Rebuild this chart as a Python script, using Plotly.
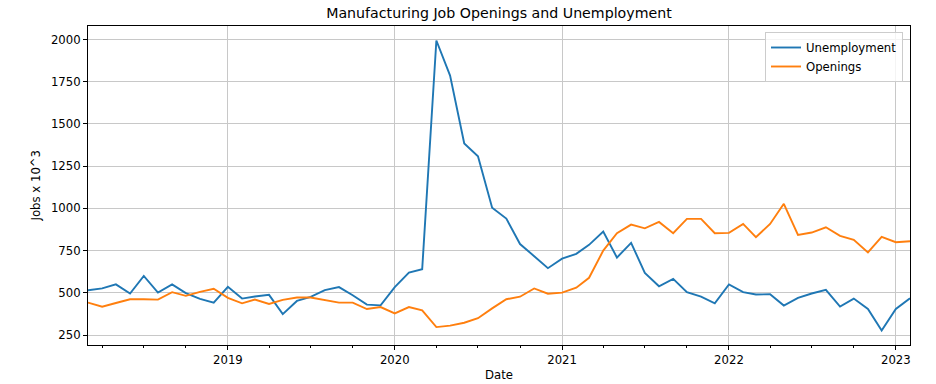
import pandas as pd
import plotly.graph_objects as go

dates = pd.date_range("2018-03-01", periods=60, freq="MS")

unemployment = [515, 526, 550, 496, 600, 502, 550, 498, 464, 442,
                536, 466, 478, 488, 374, 452, 476, 516, 534, 486, 430, 426,
                534, 620, 640, 1994, 1786, 1384, 1308, 1004, 940, 789, 717, 646,
                702, 731, 784, 863, 709, 796, 618, 539, 583, 504, 478, 438,
                550, 504, 490, 492, 425, 470, 496, 518, 419, 466, 405, 277,
                405, 468]

openings = [442, 418, 440, 462, 462, 460, 504, 482, 506, 524,
            470, 438, 460, 434, 458, 472, 472, 456, 442, 442, 404, 416,
            378, 416, 396, 297, 306, 323, 350, 408, 462, 477, 526, 495,
            501, 530, 589, 750, 853, 904, 882, 920, 853, 938, 938, 853,
            855, 908, 829, 908, 1027, 843, 857, 888, 837, 814, 739, 831,
            800, 805]

series_names = ["Unemployment", "Openings"]
colors = ["#1f77b4", "#ff7f0e"]

allv = unemployment + openings
lo, hi = min(allv), max(allv)
pad = (hi - lo) * 0.05
yrange = [lo - pad, hi + pad]

fig = go.Figure()
for name, vals, c in zip(series_names, [unemployment, openings], colors):
    fig.add_trace(go.Scatter(x=dates, y=vals, mode="lines", name=name,
                             line=dict(color=c, width=1.9)))

font = "DejaVu Sans, Liberation Sans, sans-serif"
W, H = 936, 384
L, R, T, B = 88, 26, 26, 39
fig.update_layout(
    width=W, height=H,
    margin=dict(l=L, r=R, t=T, b=B, pad=0, autoexpand=False),
    paper_bgcolor="white", plot_bgcolor="white",
    font=dict(family=font, size=11.7, color="#000000"),
    title=dict(text="Manufacturing Job Openings and Unemployment",
               x=0.5, xref="paper", xanchor="center",
               y=1 - 13.5 / H, yref="container", yanchor="middle",
               font=dict(size=14.2, family=font, color="#000000")),
    legend=dict(x=1 - 7 / (W - L - R), y=1 - 6 / (H - T - B),
                xanchor="right", yanchor="top",
                bgcolor="rgba(255,255,255,0.8)", bordercolor="#cccccc",
                borderwidth=1, font=dict(size=11.7, family=font),
                tracegroupgap=0),
    showlegend=True,
    annotations=[
        dict(text="Date", xref="paper", yref="paper", x=0.5, y=0,
             xanchor="center", yanchor="middle", yshift=-30,
             showarrow=False, font=dict(size=11.7, family=font)),
        dict(text="Jobs x 10^3", xref="paper", yref="paper", x=0, y=0.5,
             xanchor="center", yanchor="middle", xshift=-53, textangle=-90,
             showarrow=False, font=dict(size=11.7, family=font)),
    ],
)
fig.update_xaxes(
    range=[dates[0], dates[-1]], automargin=False,
    tickformat="%Y", dtick="M12", tick0="2019-01-01",
    ticks="outside", ticklen=4, tickwidth=1, tickcolor="#000000",
    tickfont=dict(size=11.7),
    showgrid=True, gridcolor="#c8c8c8", gridwidth=1,
    showline=True, linecolor="#000000", linewidth=1, mirror=True,
    zeroline=False,
    minor=dict(dtick="M3", tick0="2018-01-01", ticks="outside", ticklen=2,
               tickcolor="#000000", showgrid=False),
)
fig.update_yaxes(
    range=yrange, dtick=250, tick0=0, automargin=False,
    ticks="outside", ticklen=4, tickwidth=1, tickcolor="#000000",
    tickfont=dict(size=11.7),
    showgrid=True, gridcolor="#c8c8c8", gridwidth=1,
    showline=True, linecolor="#000000", linewidth=1, mirror=True,
    zeroline=False,
)

fig.write_html("out.html",
               config={"displayModeBar": False},
               post_script="document.body.style.margin='0';")
